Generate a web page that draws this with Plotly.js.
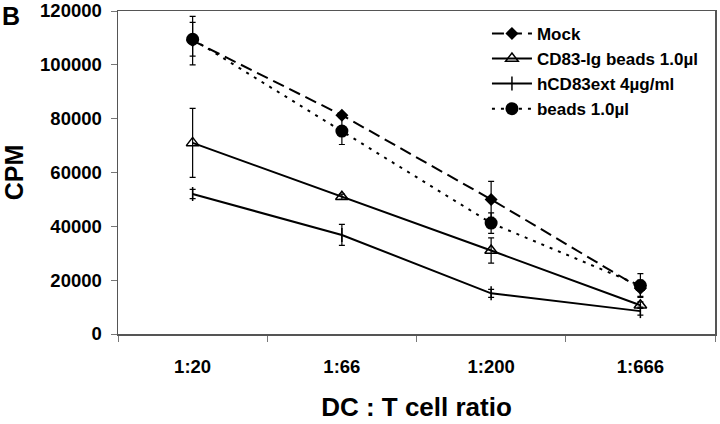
<!DOCTYPE html>
<html>
<head>
<meta charset="utf-8">
<script src="https://cdn.plot.ly/plotly-3.0.1.min.js"></script>
<style>html,body{margin:0;padding:0;background:#fff;}#chart{width:720px;height:424px;}</style>
</head>
<body>
<div id="chart"></div>
<script>
const categories = ["1:20", "1:66", "1:200", "1:666"];
const seriesNames = ["Mock", "CD83-Ig beads 1.0\u00b5l", "hCD83ext 4\u00b5g/ml", "beads 1.0\u00b5l"];
const yTickValues = [0, 20000, 40000, 60000, 80000, 100000, 120000];
const mockValues = [109000, 81300, 50000, 17000];
const mockErrors = [9000, 1000, 6700, 3000];
const cd83IgValues = [71000, 51000, 31000, 10700];
const cd83IgErrors = [12800, 1000, 4700, 1200];
const hcd83extValues = [52000, 36800, 15100, 8500];
const hcd83extErrors = [1700, 3900, 1500, 1500];
const beadsValues = [109500, 75400, 41200, 18000];
const beadsErrors = [6300, 5000, 3800, 4400];

const font = "Liberation Sans, Arial, sans-serif";
function eb(arr){ return {type:"data", array:arr, visible:true, color:"#000", thickness:1.2, width:3}; }

const traces = [
  {x: categories, y: mockValues, name: seriesNames[0], type: "scatter", mode: "lines+markers",
   line: {color: "#000", width: 2, dash: "12px,6px"},
   marker: {symbol: "diamond", size: 10, color: "#000"}, error_y: eb(mockErrors)},
  {x: categories, y: cd83IgValues, name: seriesNames[1], type: "scatter", mode: "lines+markers",
   line: {color: "#000", width: 2},
   marker: {symbol: "triangle-up-open", size: 11, color: "#000", line: {width: 1.5, color: "#000"}}, error_y: eb(cd83IgErrors)},
  {x: categories, y: hcd83extValues, name: seriesNames[2], type: "scatter", mode: "lines+markers",
   line: {color: "#000", width: 2},
   marker: {symbol: "line-ns-open", size: 10, color: "#000", line: {width: 1.5, color: "#000"}}, error_y: eb(hcd83extErrors)},
  {x: categories, y: beadsValues, name: seriesNames[3], type: "scatter", mode: "lines+markers",
   line: {color: "#000", width: 2, dash: "3px,6px"},
   marker: {symbol: "circle", size: 13, color: "#000"}, error_y: eb(beadsErrors)}
];

const layout = {
  width: 720, height: 424,
  margin: {l: 118, r: 5, t: 11, b: 90},
  paper_bgcolor: "#fff", plot_bgcolor: "#fff",
  showlegend: true,
  legend: {x: 0.618, y: 0.985, xanchor: "left", yanchor: "top", bgcolor: "rgba(0,0,0,0)",
    font: {family: font, size: 17, color: "#000", weight: "bold"}, tracegroupgap: 0, itemwidth: 40},
  xaxis: {type: "category", range: [-0.5, 3.5], showline: true, mirror: true, linecolor: "#555", linewidth: 1.5,
    ticks: "outside", tickson: "boundaries", ticklen: 6, tickcolor: "#777", showgrid: false, zeroline: false,
    ticklabelstandoff: 15,
    tickfont: {family: font, size: 18.5, color: "#000", weight: "bold"},
    title: {text: "DC : T cell ratio", font: {family: font, size: 26, color: "#000", weight: "bold"}, standoff: 22}},
  yaxis: {range: [0, 120000.5], tickvals: yTickValues, ticktext: yTickValues.map(String), showline: true, mirror: true, linecolor: "#555", linewidth: 1.5,
    ticks: "outside", ticklen: 6, tickcolor: "#777", showgrid: false, zeroline: false,
    ticklabelstandoff: 5, ticklabeloverflow: "allow",
    tickfont: {family: font, size: 18.5, color: "#000", weight: "bold"},
    title: {text: "CPM", font: {family: font, size: 25, color: "#000", weight: "bold"}, standoff: 12}},
  annotations: [{text: "B", xref: "paper", yref: "paper", x: -0.197, y: 1.035, xanchor: "left", yanchor: "top",
    showarrow: false, font: {family: font, size: 25, color: "#000", weight: "bold"}}]
};

Plotly.newPlot("chart", traces, layout, {displayModeBar: false, staticPlot: true});
</script>
</body>
</html>
